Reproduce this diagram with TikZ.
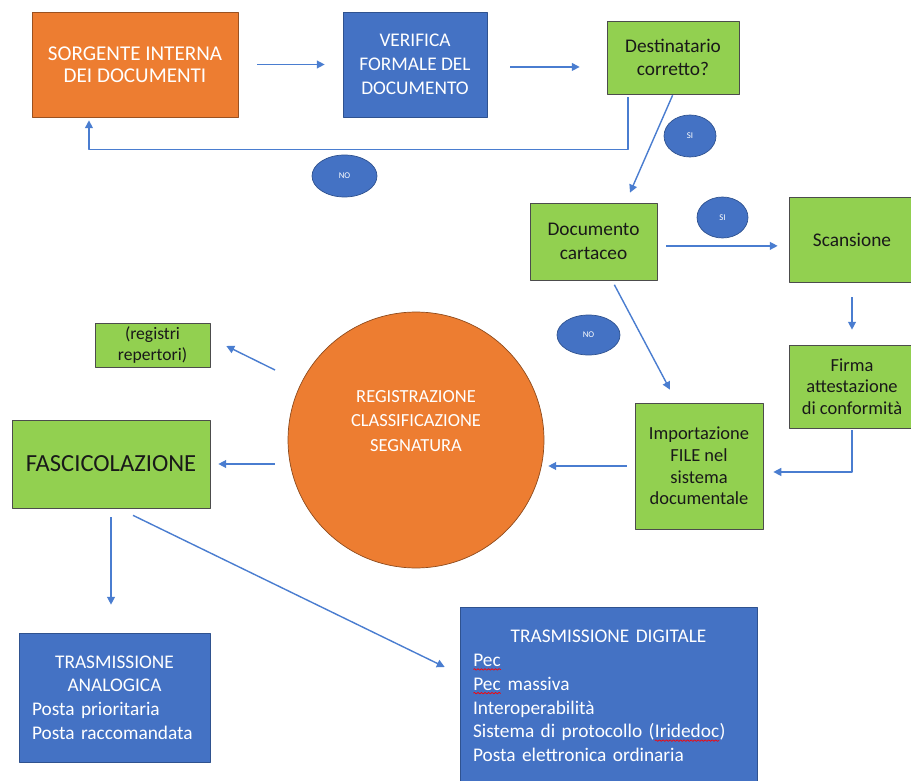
\documentclass[tikz,border=0pt]{standalone}
\usepackage{fontspec}
\setmainfont{Carlito}
\usetikzlibrary{arrows.meta,calc,shapes.geometric,decorations.pathmorphing}
\definecolor{arancio}{HTML}{ED7D31}
\definecolor{blu}{HTML}{4472C4}
\definecolor{blubordo}{HTML}{2F528F}
\definecolor{verde}{HTML}{92D050}
\definecolor{freccia}{HTML}{4A7DD0}
% sottolineatura ondulata rossa
\newcommand{\ondarossa}[1]{\tikz[baseline=(w.base), x=1cm, y=1cm]{\node[inner sep=0pt, outer sep=0pt, minimum width=0pt, minimum height=0pt, text width={}, text=white, draw=none, fill=none] (w) {#1};
	\draw[red, line width=0.4pt, decorate, decoration={snake, amplitude=0.45pt, segment length=2pt}] ([yshift=-1.6pt]w.base west) -- ([yshift=-1.6pt]w.base east);}}
\begin{document}
\begin{tikzpicture}[x=0.02cm, y=-0.02cm, font=\fontsize{11}{13.5}\selectfont, line join=round, >={Triangle[length=4.5pt,width=4.5pt]},
	arancione/.style={draw=arancio!65!black, fill=arancio, text=white, align=center, inner sep=0pt},
	blubox/.style={draw=blubordo, fill=blu, text=white, inner sep=0pt},
	verdebox/.style={draw=black!70, fill=verde, text=black!90, align=center, inner sep=0pt},
	bolla/.style={ellipse, draw=blubordo, fill=blu, text=white, font=\fontsize{5}{6}\selectfont, inner sep=0pt},
	flusso/.style={->, draw=freccia, line width=0.8pt}]
	\useasboundingbox (0,0) rectangle (911,780);
	% riga in alto
	\node[arancione, minimum width=4.12cm, minimum height=2.1cm, font=\fontsize{12}{12.5}\selectfont] (sorg) at (135,64.5) {SORGENTE INTERNA\\DEI DOCUMENTI};
	\node[blubox, align=center, minimum width=2.88cm, minimum height=2.1cm] (verif) at (415,64.5) {VERIFICA\\FORMALE DEL\\DOCUMENTO};
	\node[verdebox, minimum width=2.64cm, minimum height=1.46cm] (dest) at (673,57.5) {Destinatario\\corretto?};
	\node[verdebox, minimum width=2.54cm, minimum height=1.54cm] (doc) at (593.5,241.5) {Documento\\cartaceo};
	\node[verdebox, minimum width=2.52cm, minimum height=1.7cm] (scan) at (852,239.5) {Scansione};
	\node[verdebox, minimum width=2.52cm, minimum height=1.66cm, font=\fontsize{10.5}{12.3}\selectfont] (firma) at (852,386.5) {Firma\\attestazione\\di conformità};
	\node[verdebox, minimum width=2.56cm, minimum height=2.52cm, font=\fontsize{10.5}{12.3}\selectfont] (imp) at (699,466) {Importazione\\FILE nel\\sistema\\documentale};
	% cerchio centrale
	\node[circle, draw=arancio!60!black, fill=arancio, minimum size=5.12cm, inner sep=0pt] (reg) at (416,440) {};
	\node[text=white, align=center, font=\fontsize{10.5}{14}\selectfont] (regtesto) at ($(reg)+(0,-19)$) {REGISTRAZIONE\\CLASSIFICAZIONE\\SEGNATURA};
	\node[verdebox, minimum width=2.3cm, minimum height=0.88cm, font=\fontsize{10}{12.5}\selectfont] (regis) at (152.5,345) {(registri\\repertori)};
	\node[verdebox, minimum width=3.96cm, minimum height=1.76cm, font=\fontsize{14}{16}\selectfont] (fasc) at (111,464) {FASCICOLAZIONE};
	% trasmissione
	\node[blubox, minimum width=3.82cm, minimum height=2.58cm, text width=3.3cm, align=left] (analog) at (114.5,697.5)
		{{\centering TRASMISSIONE\\ANALOGICA\par}Posta prioritaria\\Posta raccomandata};
	\node[blubox, minimum width=5.94cm, minimum height=3.56cm, text width=5.42cm, align=left] (digit) at (608.5,696)
		{{\centering TRASMISSIONE DIGITALE\par}\ondarossa{Pec}\\\ondarossa{Pec} massiva\\Interoperabilità\\Sistema di protocollo (\ondarossa{Iridedoc})\\Posta elettronica ordinaria};
	% bolle SI/NO
	\node[bolla, minimum width=1.3cm, minimum height=0.84cm] (no1) at (344.5,176) {NO};
	\node[bolla, minimum width=1.04cm, minimum height=0.84cm] (si1) at (690,136) {SI};
	\node[bolla, minimum width=1.02cm, minimum height=0.82cm] (si2) at (722.5,217.5) {SI};
	\node[bolla, minimum width=1.26cm, minimum height=0.8cm] (no2) at (588.5,335) {NO};
	% frecce
	\draw[flusso, shorten <=0.38cm, shorten >=0.36cm] (sorg) -- (verif);
	\draw[flusso, shorten <=0.46cm, shorten >=0.54cm] ([yshift=-1.4pt]verif.east) -- ([yshift=-1.4pt]verif.east -| dest.west);
	\draw[flusso, shorten <=0.06cm, shorten >=0.06cm] ([xshift=-25.6pt]dest.south) -- ++(0,55) -| ([xshift=-26.2pt]sorg.south);
	\draw[flusso, shorten <=0.02cm] (dest.south) -- ($(doc.north)+(36.5,-10)$);
	\draw[flusso, shorten <=0.18cm, shorten >=0.22cm] ([yshift=-2.5pt]doc.east) -- ([yshift=-2.5pt]doc.east -| scan.west);
	\draw[flusso, shorten <=0.3cm, shorten >=0.3cm] (scan) -- (firma);
	\draw[flusso, shorten <=0.04cm, shorten >=0.2cm] (firma.south) |- ([yshift=-3.4pt]imp.east);
	\draw[flusso, shorten <=0.1cm] ($(doc.south)+(18.5,0)$) -- ($(imp.north)+(-29,-13)$);
	\draw[flusso, shorten <=0.16cm, shorten >=0.08cm] (imp.west) -- (imp.west -| reg.east);
	\draw[flusso, shorten <=0.26cm, shorten >=0.16cm] (reg.west |- fasc.east) -- (fasc.east);
	\draw[flusso] ($(reg)+(-141,-70)$) -- ($(regis.east)+(16,1)$);
	\draw[flusso, shorten <=0.18cm, shorten >=0.56cm] (fasc.south) -- (fasc.south |- analog.north);
	\draw[flusso] ($(fasc.south)+(22,7)$) -- ($(digit.west)+(-15,-29)$);
\end{tikzpicture}
\end{document}
